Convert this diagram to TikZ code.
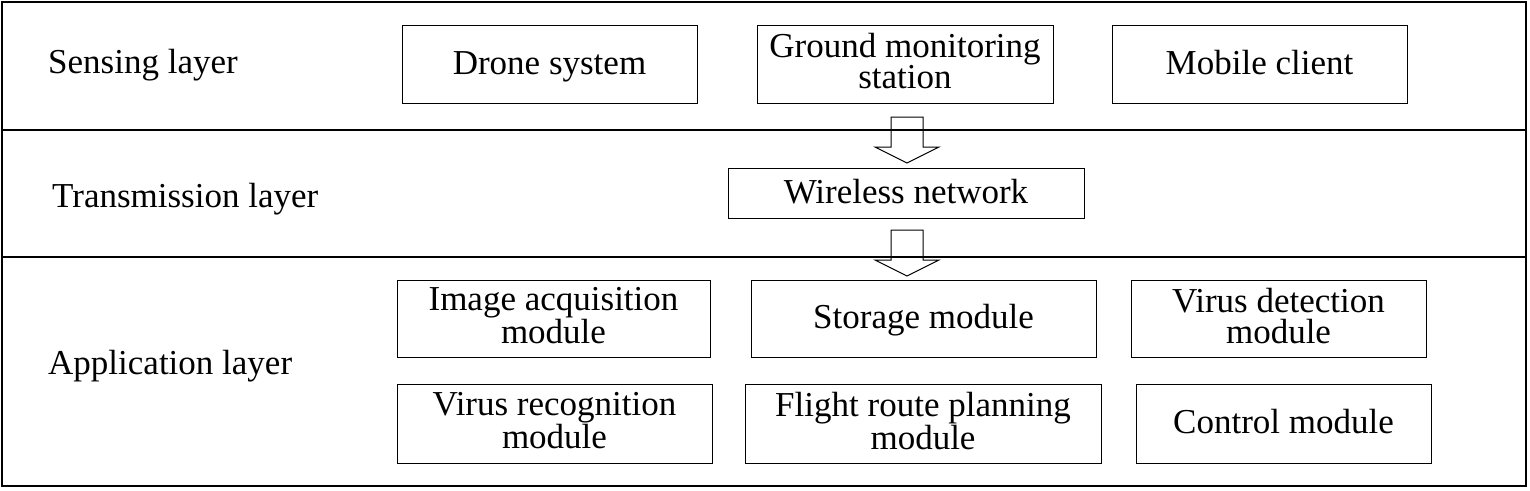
\documentclass[tikz,border=0pt]{standalone}
\usepackage{fontspec}
\setmainfont{Liberation Serif}
\newcommand{\lowstrut}{\rule[-6pt]{0pt}{6pt}}
\begin{document}
\begin{tikzpicture}[x=1pt,y=-1pt,
  box/.style={draw,line width=1pt,align=center,font=\fontsize{35}{31}\selectfont,inner sep=0pt},
  onebox/.style={box,text height=26pt,text depth=6pt},
  lbl/.style={anchor=west,font=\fontsize{35}{31}\selectfont,inner sep=0pt},
  blockarrow/.style={draw,line width=1pt,line join=miter}]
\useasboundingbox (0,0) rectangle (1530,490);
% frame and layer dividers
\draw[line width=1.3pt] (2,2) rectangle (1526,486);
\draw[line width=1.1pt] (2,130) -- (1526,130);
\draw[line width=1.1pt] (2,257) -- (1526,257);
% layer labels
\node[lbl] (sl) at (48,65.5) {Sensing layer};
\node[lbl] (tl) at (52,199) {Transmission layer};
\node[lbl] (al) at (48,366) {Application layer};
% sensing layer
\node[onebox,minimum width=295pt,minimum height=78pt] (drone) at (549.5,64) {Drone system};
\node[box,minimum width=296pt,minimum height=78pt] (ground) at (905,64) {Ground monitoring\\station\lowstrut};
\node[onebox,minimum width=295pt,minimum height=78pt] (mobile) at (1259.5,64) {Mobile client};
% transmission layer
\node[onebox,minimum width=356pt,minimum height=50pt] (wireless) at (906,193) {Wireless network};
% application layer
\node[box,minimum width=313pt,minimum height=77pt] (image) at (553.5,318.5) {Image acquisition\\module\lowstrut};
\node[onebox,minimum width=345pt,minimum height=77pt] (storage) at (923.5,318.5) {Storage module};
\node[box,minimum width=295pt,minimum height=77pt] (vdet) at (1278.5,318.5) {Virus detection\\module\lowstrut};
\node[box,minimum width=315pt,minimum height=79pt] (vrec) at (554.5,423.5) {Virus recognition\\module\lowstrut};
\node[box,minimum width=356pt,minimum height=79pt] (flight) at (923,423.5) {Flight route planning\\module\lowstrut};
\node[onebox,minimum width=295pt,minimum height=79pt] (control) at (1283.5,423.5) {Control module};
% block arrows
\draw[blockarrow] (891,117) -- (923,117) -- (923,147) -- (939,147) -- (907,163) -- (875,147) -- (891,147) -- cycle;
\draw[blockarrow] (891,230) -- (923,230) -- (923,260) -- (939,260) -- (907,276) -- (875,260) -- (891,260) -- cycle;
\end{tikzpicture}
\end{document}
